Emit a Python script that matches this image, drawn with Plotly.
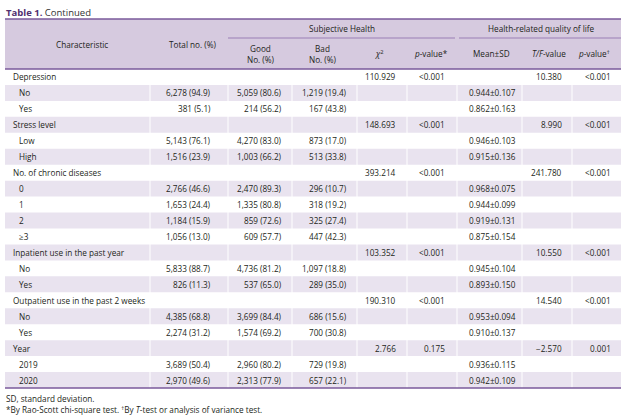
import plotly.graph_objects as go

# ---------------- data ----------------
labels = ["Depression", "No", "Yes", "Stress level", "Low", "High",
          "No. of chronic diseases", "0", "1", "2", "≥3",
          "Inpatient use in the past year", "No", "Yes",
          "Outpatient use in the past 2 weeks", "No", "Yes",
          "Year", "2019", "2020"]
is_group = [True, False, False, True, False, False,
            True, False, False, False, False,
            True, False, False,
            True, False, False,
            True, False, False]
total_no = ["", "6,278 (94.9)", "381 (5.1)", "", "5,143 (76.1)", "1,516 (23.9)",
            "", "2,766 (46.6)", "1,653 (24.4)", "1,184 (15.9)", "1,056 (13.0)",
            "", "5,833 (88.7)", "826 (11.3)",
            "", "4,385 (68.8)", "2,274 (31.2)",
            "", "3,689 (50.4)", "2,970 (49.6)"]
good_no = ["", "5,059 (80.6)", "214 (56.2)", "", "4,270 (83.0)", "1,003 (66.2)",
           "", "2,470 (89.3)", "1,335 (80.8)", "859 (72.6)", "609 (57.7)",
           "", "4,736 (81.2)", "537 (65.0)",
           "", "3,699 (84.4)", "1,574 (69.2)",
           "", "2,960 (80.2)", "2,313 (77.9)"]
bad_no = ["", "1,219 (19.4)", "167 (43.8)", "", "873 (17.0)", "513 (33.8)",
          "", "296 (10.7)", "318 (19.2)", "325 (27.4)", "447 (42.3)",
          "", "1,097 (18.8)", "289 (35.0)",
          "", "686 (15.6)", "700 (30.8)",
          "", "729 (19.8)", "657 (22.1)"]
chi2 = ["110.929", "", "", "148.693", "", "", "393.214", "", "", "", "",
        "103.352", "", "", "190.310", "", "", "2.766", "", ""]
p_chi = ["&lt;0.001", "", "", "&lt;0.001", "", "", "&lt;0.001", "", "", "", "",
         "&lt;0.001", "", "", "&lt;0.001", "", "", "0.175", "", ""]
mean_sd = ["", "0.944±0.107", "0.862±0.163", "", "0.946±0.103", "0.915±0.136",
           "", "0.968±0.075", "0.944±0.099", "0.919±0.131", "0.875±0.154",
           "", "0.945±0.104", "0.893±0.150",
           "", "0.953±0.094", "0.910±0.137",
           "", "0.936±0.115", "0.942±0.109"]
tf_value = ["10.380", "", "", "8.990", "", "", "241.780", "", "", "", "",
            "10.550", "", "", "14.540", "", "", "−2.570", "", ""]
p_tf = ["&lt;0.001", "", "", "&lt;0.001", "", "", "&lt;0.001", "", "", "", "",
        "&lt;0.001", "", "", "&lt;0.001", "", "", "0.001", "", ""]

title_bold = "Table 1."
title_rest = " Continued"
footnotes = ["SD, standard deviation.",
             "*By Rao-Scott chi-square test. <sup>†</sup>By <i>T</i>-test or analysis of variance test."]

# ---------------- layout constants ----------------
W, H = 626, 419
X0, X1 = 5, 621
Y_TOP, Y_HEAD, Y_BOT = 19, 69, 388
n = len(labels)
RH = (Y_BOT - Y_HEAD) / n

HEAD_BG = "#d6cadf"
ROW_BG = "#e9e3ef"
LINE = "#7a5a9b"
TXT = "#231f20"
FONT = "Open Sans"
FS = 8.2

# body columns: (values, x, anchor)
body_cols = [
    (total_no, 212, "right"),
    (good_no, 283, "right"),
    (bad_no, 348, "right"),
    (chi2, 397, "right"),
    (p_chi, 446, "right"),
    (mean_sd, 468, "left"),
    (tf_value, 563, "right"),
    (p_tf, 612, "right"),
]
separators = [150, 228, 292, 357, 407, 457, 522, 572]

fig = go.Figure()
shapes = []
ann = []

# header background
shapes.append(dict(type="rect", x0=X0, x1=X1, y0=Y_TOP, y1=Y_HEAD,
                   fillcolor=HEAD_BG, line=dict(width=0), layer="below"))
# shaded rows
for i in range(n):
    if i % 2 == 1:
        shapes.append(dict(type="rect", x0=X0, x1=X1,
                           y0=Y_HEAD + i * RH, y1=Y_HEAD + (i + 1) * RH,
                           fillcolor=ROW_BG, line=dict(width=0), layer="below"))
# faint white column separators
for sx in separators:
    shapes.append(dict(type="line", x0=sx, x1=sx, y0=Y_HEAD, y1=Y_BOT,
                       line=dict(color="white", width=1), layer="below"))
# header group underlines
shapes.append(dict(type="line", x0=228, x1=455, y0=38, y1=38,
                   line=dict(color="#9a7fb5", width=1.2)))
shapes.append(dict(type="line", x0=459, x1=X1, y0=38, y1=38,
                   line=dict(color="#9a7fb5", width=1.2)))
# main rules
for yy in (Y_TOP, Y_HEAD, Y_BOT):
    shapes.append(dict(type="line", x0=X0, x1=X1, y0=yy, y1=yy,
                       line=dict(color=LINE, width=1.5)))


def add(text, x, y, anchor="center", size=FS, color=TXT, valign="middle"):
    ann.append(dict(text=text, x=x, y=y, xref="x", yref="y", showarrow=False,
                    xanchor=anchor, yanchor=valign,
                    align=anchor if anchor != "center" else "center",
                    font=dict(family=FONT, size=size, color=color)))


# title
add(f"<b><span style='color:#51306f'>{title_bold}</span></b>{title_rest}", 4, 12,
    anchor="left", size=9.5, color="#333333")

# header
add("Characteristic", 82, 44)
add("Total no. (%)", 193, 44)
add("Subjective Health", 342, 28)
add("Health-related quality of life", 541, 28)
add("Good<br>No. (%)", 261, 54)
add("Bad<br>No. (%)", 323, 54)
add("<i>χ</i><sup>2</sup>", 379, 53)
add("<i>p</i>-value*", 431, 53)
add("Mean±SD", 491, 53)
add("<i>T/F</i>-value", 549, 53)
add("<i>p</i>-value<sup>†</sup>", 594, 53)

# body
for i in range(n):
    yc = Y_HEAD + (i + 0.5) * RH
    add(labels[i], 11 if is_group[i] else 17, yc, anchor="left")
    for vals, x, a in body_cols:
        if vals[i]:
            add(vals[i], x + (1 if a == "right" else -1), yc, anchor=a)

# footnotes
add(footnotes[0], 4, 398, anchor="left")
add(footnotes[1], 4, 409, anchor="left")

fig.update_layout(
    width=W, height=H, margin=dict(l=0, r=0, t=0, b=0),
    paper_bgcolor="white", plot_bgcolor="white",
    xaxis=dict(range=[0, W], visible=False, fixedrange=True),
    yaxis=dict(range=[H, 0], visible=False, fixedrange=True),
    shapes=shapes, annotations=ann, showlegend=False,
)
fig.write_html("out.html", config={"displayModeBar": False},
               post_script="document.body.style.margin='0';document.body.style.overflow='hidden';")
